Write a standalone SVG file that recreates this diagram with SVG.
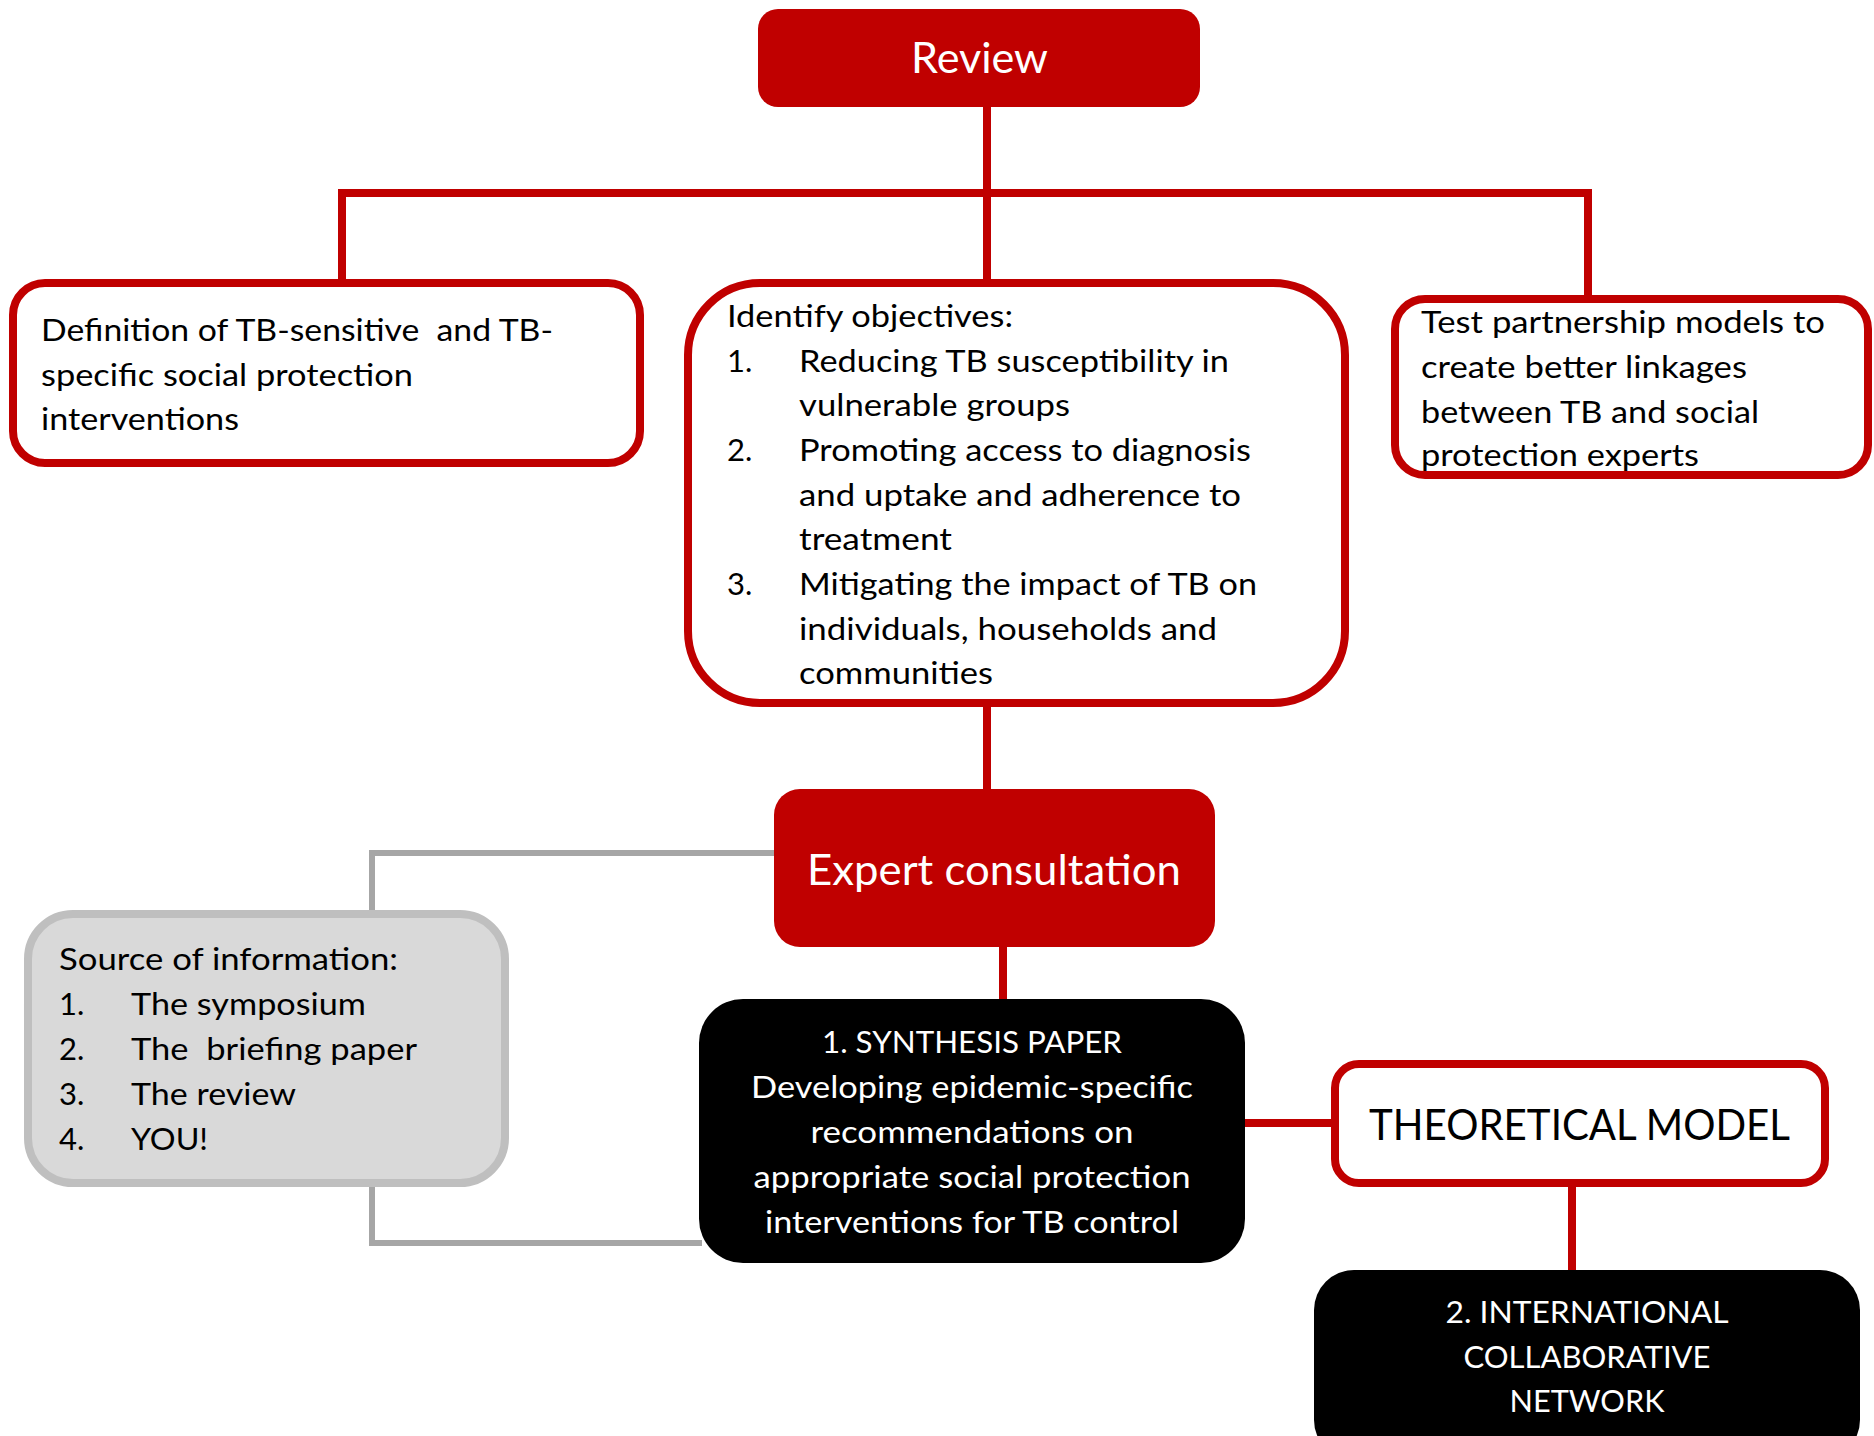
<svg xmlns="http://www.w3.org/2000/svg" width="1874" height="1436" viewBox="0 0 1874 1436">
<style>
.t{font-family:Lato,"Liberation Sans",sans-serif;font-size:31px;fill:#000;white-space:pre}
.w{fill:#fff}
.c{text-anchor:middle}
.big{font-size:42px}
.red{stroke:#C00000;stroke-width:8;fill:none}
.gray{stroke:#A6A6A6;stroke-width:6;fill:none}
</style>
<rect width="1874" height="1436" fill="#fff"/>
<g id="connectors">
<path class="red" d="M987 107V283M342 283V193H1588V299M987 703V789M1003 947V1003M1243 1123H1335M1572 1187V1273"/>
<path class="gray" d="M774 853H372V910M372 1187V1243H702"/>
</g>
<g id="review">
<rect x="758" y="9" width="442" height="98" rx="20" fill="#C00000"/>
<text class="t w big" x="911" y="73" textLength="137" lengthAdjust="spacingAndGlyphs">Review</text>
</g>
<g id="definition">
<rect x="13" y="283" width="627" height="180" rx="32" fill="#fff" class="red"/>
<text class="t" x="41" y="341" textLength="512" lengthAdjust="spacingAndGlyphs" xml:space="preserve">Definition of TB-sensitive  and TB-</text>
<text class="t" x="41" y="386" textLength="372" lengthAdjust="spacingAndGlyphs">specific social protection</text>
<text class="t" x="41" y="430" textLength="198" lengthAdjust="spacingAndGlyphs">interventions</text>
</g>
<g id="objectives">
<rect x="688" y="283" width="657" height="420" rx="72" fill="#fff" class="red"/>
<text class="t" x="727" y="327" textLength="286" lengthAdjust="spacingAndGlyphs">Identify objectives:</text>
<text class="t" x="727" y="372">1.</text>
<text class="t" x="799" y="372" textLength="430" lengthAdjust="spacingAndGlyphs">Reducing TB susceptibility in</text>
<text class="t" x="799" y="416" textLength="271" lengthAdjust="spacingAndGlyphs">vulnerable groups</text>
<text class="t" x="727" y="461">2.</text>
<text class="t" x="799" y="461" textLength="452" lengthAdjust="spacingAndGlyphs">Promoting access to diagnosis</text>
<text class="t" x="799" y="506" textLength="442" lengthAdjust="spacingAndGlyphs">and uptake and adherence to</text>
<text class="t" x="799" y="550" textLength="153" lengthAdjust="spacingAndGlyphs">treatment</text>
<text class="t" x="727" y="595">3.</text>
<text class="t" x="799" y="595" textLength="458" lengthAdjust="spacingAndGlyphs">Mitigating the impact of TB on</text>
<text class="t" x="799" y="640" textLength="418" lengthAdjust="spacingAndGlyphs">individuals, households and</text>
<text class="t" x="799" y="684" textLength="194" lengthAdjust="spacingAndGlyphs">communities</text>
</g>
<g id="partnership">
<rect x="1395" y="299" width="473" height="176" rx="30" fill="#fff" class="red"/>
<text class="t" x="1421" y="333" textLength="404" lengthAdjust="spacingAndGlyphs">Test partnership models to</text>
<text class="t" x="1421" y="378" textLength="326" lengthAdjust="spacingAndGlyphs">create better linkages</text>
<text class="t" x="1421" y="423" textLength="338" lengthAdjust="spacingAndGlyphs">between TB and social</text>
<text class="t" x="1421" y="466" textLength="278" lengthAdjust="spacingAndGlyphs">protection experts</text>
</g>
<g id="expert">
<rect x="774" y="789" width="441" height="158" rx="26" fill="#C00000"/>
<text class="t w big" x="807" y="885" textLength="374" lengthAdjust="spacingAndGlyphs">Expert consultation</text>
</g>
<g id="source">
<rect x="28" y="914" width="477" height="269" rx="45" fill="#D9D9D9" stroke="#BFBFBF" stroke-width="8"/>
<text class="t" x="59" y="970" textLength="339" lengthAdjust="spacingAndGlyphs">Source of information:</text>
<text class="t" x="59" y="1015">1.</text>
<text class="t" x="131" y="1015" textLength="235" lengthAdjust="spacingAndGlyphs">The symposium</text>
<text class="t" x="59" y="1060">2.</text>
<text class="t" x="131" y="1060" textLength="286" lengthAdjust="spacingAndGlyphs" xml:space="preserve">The  briefing paper</text>
<text class="t" x="59" y="1105">3.</text>
<text class="t" x="131" y="1105" textLength="165" lengthAdjust="spacingAndGlyphs">The review</text>
<text class="t" x="59" y="1150">4.</text>
<text class="t" x="131" y="1150" textLength="77" lengthAdjust="spacingAndGlyphs">YOU!</text>
</g>
<g id="synthesis">
<rect x="699" y="999" width="546" height="264" rx="44" fill="#000"/>
<text class="t w c" x="972" y="1053" textLength="300" lengthAdjust="spacingAndGlyphs">1. SYNTHESIS PAPER</text>
<text class="t w c" x="972" y="1098" textLength="442" lengthAdjust="spacingAndGlyphs">Developing epidemic-specific</text>
<text class="t w c" x="972" y="1143" textLength="323" lengthAdjust="spacingAndGlyphs">recommendations on</text>
<text class="t w c" x="972" y="1188" textLength="437" lengthAdjust="spacingAndGlyphs">appropriate social protection</text>
<text class="t w c" x="972" y="1233" textLength="414" lengthAdjust="spacingAndGlyphs">interventions for TB control</text>
</g>
<g id="theoretical">
<rect x="1335" y="1064" width="490" height="119" rx="24" fill="#fff" class="red"/>
<text class="t big" x="1369" y="1140" textLength="421" lengthAdjust="spacingAndGlyphs">THEORETICAL MODEL</text>
</g>
<g id="international">
<rect x="1314" y="1270" width="546" height="190" rx="40" fill="#000"/>
<text class="t w c" x="1587" y="1323" textLength="283" lengthAdjust="spacingAndGlyphs">2. INTERNATIONAL</text>
<text class="t w c" x="1587" y="1368" textLength="247" lengthAdjust="spacingAndGlyphs">COLLABORATIVE</text>
<text class="t w c" x="1587" y="1412" textLength="155" lengthAdjust="spacingAndGlyphs">NETWORK</text>
</g>
</svg>
